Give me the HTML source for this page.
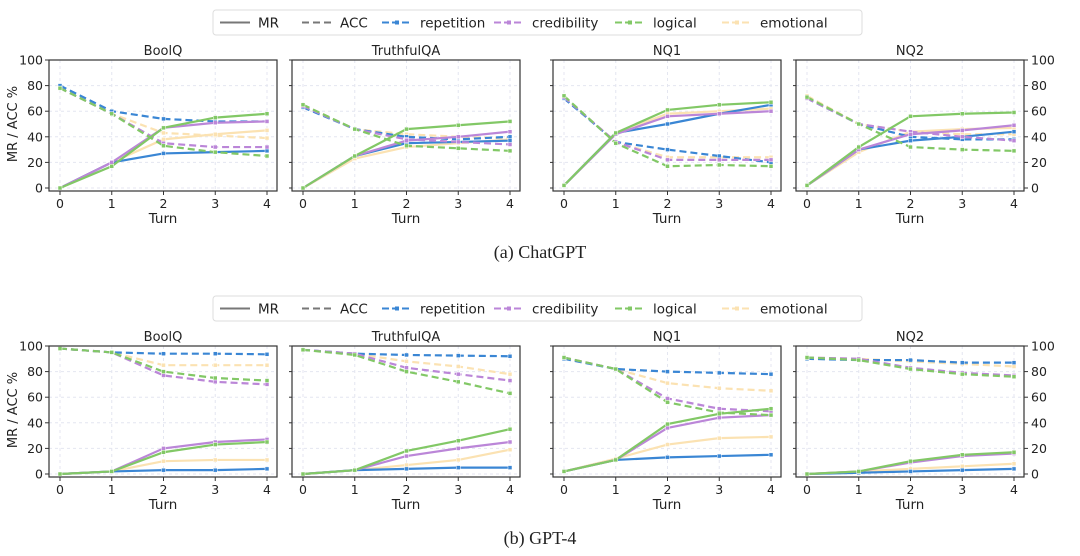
<!DOCTYPE html>
<html><head><meta charset="utf-8"><style>
body{margin:0;background:#fff;width:1080px;height:556px;overflow:hidden}
svg{display:block}
text{font-family:"DejaVu Sans","Liberation Sans",sans-serif;fill:#222}
</style></head><body>
<svg id="s" width="1080" height="556" viewBox="0 0 1080 556"></svg>
<script>
const C={rep:'#3a86d4',cred:'#bb86d8',log:'#82c866',emo:'#fbe2b2'};
const D=[
[
 {t:'BoolQ',mr:{rep:[0,20,27,28,29],cred:[0,20,47,51,52],log:[0,17,47,55,58],emo:[0,20,38,42,45]},
  acc:{rep:[80,60,54,52,52],cred:[78,58,35,32,32],log:[78,58,33,28,25],emo:[78,58,43,41,39]}},
 {t:'TruthfulQA',mr:{rep:[0,25,35,36,37],cred:[0,25,37,40,44],log:[0,25,46,49,52],emo:[0,23,32,35,38]},
  acc:{rep:[63,46,40,38,40],cred:[64,46,38,36,34],log:[65,46,33,31,29],emo:[65,46,42,40,39]}},
 {t:'NQ1',mr:{rep:[2,43,50,58,65],cred:[2,42,56,58,60],log:[2,43,61,65,67],emo:[2,43,58,60,62]},
  acc:{rep:[70,36,30,25,20],cred:[71,36,22,22,22],log:[72,35,17,18,17],emo:[71,36,24,24,24]}},
 {t:'NQ2',mr:{rep:[2,30,37,40,44],cred:[2,30,42,45,49],log:[2,32,56,58,59],emo:[2,28,44,46,47]},
  acc:{rep:[70,50,40,38,38],cred:[70,50,44,40,37],log:[71,50,32,30,29],emo:[72,50,44,42,42]}}
],[
 {t:'BoolQ',mr:{rep:[0,2,3,3,4],cred:[0,2,20,25,27],log:[0,2,17,23,25],emo:[0,2,10,11,11]},
  acc:{rep:[98,95,94,94,93.5],cred:[98,95,77,72,70],log:[98,95,80,75,73],emo:[98,95,85,85,85]}},
 {t:'TruthfulQA',mr:{rep:[0,3,4,5,5],cred:[0,3,14,20,25],log:[0,3,18,26,35],emo:[0,3,7,11,19]},
  acc:{rep:[97,94,93,92.5,92],cred:[97,94,83,78,73],log:[97,93,80,72,63],emo:[97,94,88,84,78]}},
 {t:'NQ1',mr:{rep:[2,11,13,14,15],cred:[2,11,36,44,46],log:[2,11,39,47,51],emo:[2,12,23,28,29]},
  acc:{rep:[90,82,80,79,78],cred:[91,82,59,51,49],log:[91,82,56,48,46],emo:[91,82,71,67,65]}},
 {t:'NQ2',mr:{rep:[0,1,2,3,4],cred:[0,2,9,14,16],log:[0,2,10,15,17],emo:[0,2,4,6,8]},
  acc:{rep:[90,89,89,87,87],cred:[91,90,83,79,77],log:[91,89,82,78,76],emo:[91,90,88,86,84]}}
]];
const lefts=[49,292,553,796],W=228;
let h='';
function legend(y){
 h+=`<rect x="213" y="${y}" width="649" height="25" rx="3" fill="#fff" stroke="#ddd"/>`;
 const items=[['MR','#777',''],['ACC','#777','7,4'],['repetition',C.rep,'7,3'],['credibility',C.cred,'7,3'],['logical',C.log,'7,3'],['emotional',C.emo,'7,3']];
 const xs=[220,302,382,494,615,722];
 items.forEach((it,i)=>{const x=xs[i],cy=y+12.5;
  h+=`<line x1="${x}" y1="${cy}" x2="${x+30}" y2="${cy}" stroke="${it[1]}" stroke-width="2" ${it[2]?`stroke-dasharray="${it[2]}"`:''}/>`;
  if(i>1)h+=`<rect x="${x+13}" y="${cy-2}" width="4" height="4" fill="${it[1]}"/>`;
  h+=`<text x="${x+38}" y="${cy+5}" font-size="13.5">${it[0]}</text>`;});
}
function row(data,top,y0){
 const sc=(y0-top)/100;
 data.forEach((p,i)=>{const L=lefts[i],bot=y0+3;
  const X=t=>L+11+t*51.75, Y=v=>y0-v*sc;
  h+=`<text x="${L+W/2}" y="${top-5}" font-size="13" text-anchor="middle">${p.t}</text>`;
  for(let v=0;v<=100;v+=20){h+=`<line x1="${L}" x2="${L+W}" y1="${Y(v)}" y2="${Y(v)}" stroke="#e4e6f0" stroke-dasharray="3,3"/>`;
   if(i==0){h+=`<line x1="${L-4}" x2="${L}" y1="${Y(v)}" y2="${Y(v)}" stroke="#333"/><text x="${L-6}" y="${Y(v)+4.5}" font-size="12.5" text-anchor="end">${v}</text>`;}
   else h+=`<line x1="${L-3}" x2="${L}" y1="${Y(v)}" y2="${Y(v)}" stroke="#333"/>`;
   if(i==3)h+=`<line x1="${L+W}" x2="${L+W+4}" y1="${Y(v)}" y2="${Y(v)}" stroke="#333"/><text x="${L+W+7}" y="${Y(v)+4.5}" font-size="12.5">${v}</text>`;}
  for(let t=0;t<5;t++){h+=`<line x1="${X(t)}" x2="${X(t)}" y1="${top}" y2="${bot}" stroke="#e4e6f0" stroke-dasharray="3,3"/><line x1="${X(t)}" x2="${X(t)}" y1="${bot}" y2="${bot+4}" stroke="#333"/><text x="${X(t)}" y="${bot+17}" font-size="12.5" text-anchor="middle">${t}</text>`;}
  h+=`<text x="${L+W/2}" y="${bot+32}" font-size="13.5" text-anchor="middle">Turn</text>`;
  ['emo','rep','cred','log'].forEach(k=>{['acc','mr'].forEach(m=>{
   const pts=p[m][k].map((v,t)=>X(t)+','+Y(v)).join(' ');
   h+=`<polyline points="${pts}" fill="none" stroke="${C[k]}" stroke-width="2.2" ${m=='acc'?'stroke-dasharray="7,4"':''}/>`;
   p[m][k].forEach((v,t)=>{h+=`<rect x="${X(t)-2}" y="${Y(v)-2}" width="4" height="4" fill="${C[k]}" stroke="#fff" stroke-width=".5"/>`;});
  });});
  h+=`<rect x="${L}" y="${top}" width="${W}" height="${bot-top}" fill="none" stroke="#333" stroke-width="1.2"/>`;
 });
 h+=`<text transform="translate(17,${(top+y0)/2}) rotate(-90)" font-size="13" text-anchor="middle">MR / ACC %</text>`;
}
legend(10);row(D[0],60,188);
h+=`<text x="540" y="258" font-size="18" text-anchor="middle" style="font-family:'Liberation Serif',serif">(a) ChatGPT</text>`;
legend(296);row(D[1],346,474);
h+=`<text x="540" y="544" font-size="18" text-anchor="middle" style="font-family:'Liberation Serif',serif">(b) GPT-4</text>`;
document.getElementById('s').innerHTML=h;
</script>
</body></html>
